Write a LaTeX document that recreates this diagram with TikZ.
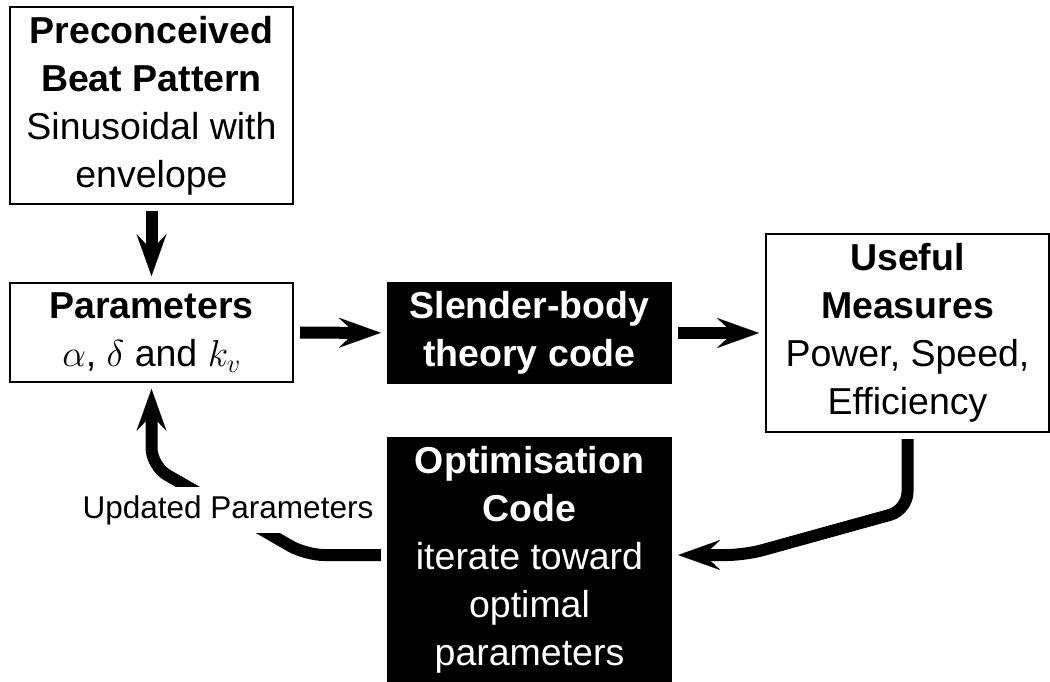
\RequirePackage{fix-cm}
\documentclass[tikz,border=0pt]{standalone}
\usepackage{fontspec}
\setmainfont{Liberation Sans}
\usetikzlibrary{arrows.meta}
\tikzset{
  every node/.style={font=\fontsize{37.5}{48}\selectfont},
  wbox/.style={draw=black, line width=2pt, fill=white, align=center, inner sep=0pt},
  bbox/.style={fill=black, text=white, align=center, inner sep=0pt},
  flow/.style={line width=12pt, -{Stealth[length=42pt,width=30pt,inset=16pt,line width=0.1pt]},
               shorten >=6pt, shorten <=6pt},
  lbl/.style={fill=white, font=\fontsize{31.5}{38}\selectfont, inner xsep=6pt, inner ysep=8pt}
}
\begin{document}
\begin{tikzpicture}[x=1pt,y=-1pt]
\useasboundingbox (0,0) rectangle (1050,682);
\node[wbox, minimum width=283pt, minimum height=197pt] (pre) at (151.5,105.5)
  {\textbf{Preconceived}\\\textbf{Beat Pattern}\\Sinusoidal with\\envelope};
\node[wbox, minimum width=283pt, minimum height=99pt] (par) at (151.5,332.5)
  {\textbf{Parameters}\\$\alpha$, $\delta$ and $k_v$};
\node[bbox, minimum width=285pt, minimum height=102pt] (sbt) at (529.5,333)
  {\textbf{Slender-body}\\\textbf{theory code}};
\node[wbox, minimum width=283pt, minimum height=198pt] (use) at (907.5,333)
  {\textbf{Useful}\\\textbf{Measures}\\Power, Speed,\\Efficiency};
\node[bbox, minimum width=285pt, minimum height=245pt] (opt) at (529.5,559.5)
  {\textbf{Optimisation}\\\textbf{Code}\\iterate toward\\optimal\\parameters};

\coordinate (c1) at (907.5,510);
\coordinate (c2) at (745,555);
\coordinate (d1) at (306,555);
\coordinate (d2) at (151.5,466);

\draw[flow] (pre) -- (par);
\draw[flow] (par) -- (sbt);
\draw[flow] (sbt) -- (use);
\draw[flow, rounded corners=18pt] (use.south) -- (c1) -- (c2) -- (opt.east |- c2);
\draw[flow, rounded corners=18pt] (opt.west |- d1) -- (d1) -- (d2) -- (par.south);
\node[lbl] (upd) at (228,510) {Updated Parameters};
\end{tikzpicture}
\end{document}
